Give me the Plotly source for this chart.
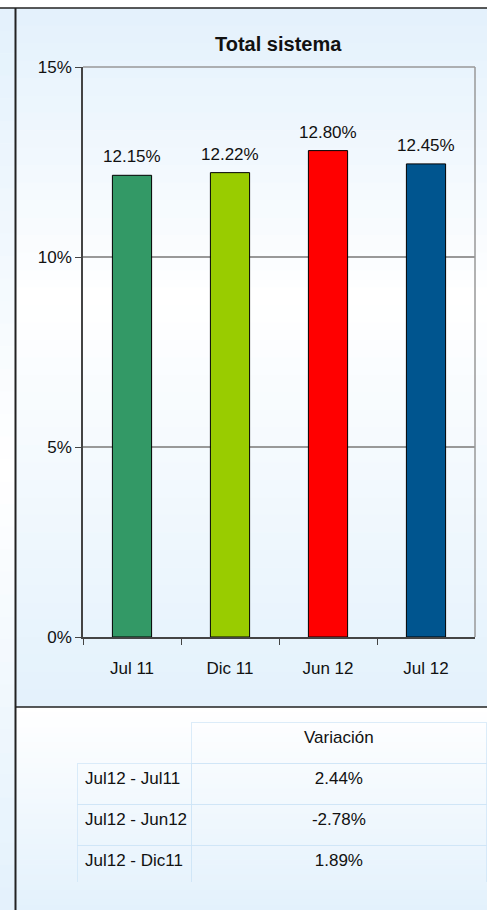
import plotly.graph_objects as go

# data
periods = ["Jul 11", "Dic 11", "Jun 12", "Jul 12"]
ratios = [0.1215, 0.1222, 0.1280, 0.1245]
bar_colors = ["#339966", "#99CC00", "#FF0000", "#00558F"]

var_labels = ["Jul12 - Jul11", "Jul12 - Jun12", "Jul12 - Dic11"]
var_values = ["2.44%", "-2.78%", "1.89%"]

W, H = 487, 910
FONT = "Liberation Sans, Arial, sans-serif"
BLUE = (227, 241, 252)
WHITE = (255, 255, 255)
GRIDLINE = "rgba(205,228,247,0.7)"


def px(x):
    return x / W


def py(y):
    return 1 - y / H


def mix(c1, c2, t):
    return "rgb(%d,%d,%d)" % tuple(round(a + (b - a) * t) for a, b in zip(c1, c2))


def gradient(x0, x1, y0, y1, stops, n=40):
    # stops: list of (pixel_y, colour) top to bottom
    out = []
    step = (y1 - y0) / n
    for i in range(n):
        ya = y0 + i * step
        yc = ya + step / 2
        for (sa, ca), (sb, cb) in zip(stops[:-1], stops[1:]):
            if sa <= yc <= sb:
                col = mix(ca, cb, (yc - sa) / (sb - sa))
                break
        out.append(dict(type="rect", xref="paper", yref="paper", layer="below",
                        x0=px(x0), x1=px(x1), y0=max(0, py(ya + step + 0.5)), y1=py(ya),
                        fillcolor=col, line=dict(width=0)))
    return out


fig = go.Figure()

fig.add_trace(go.Bar(
    x=periods, y=ratios,
    marker=dict(color=bar_colors, line=dict(color="black", width=1)),
    width=0.4, hoverinfo="x+y", showlegend=False,
))

# non-breaking spaces so the row labels stay on one line
nb_labels = [s.replace(" ", "\u00a0") for s in var_labels]

fig.add_trace(go.Table(
    domain=dict(x=[px(77), 1], y=[py(882), py(722)]),
    columnwidth=[115, 295],
    header=dict(values=["", "Variación"], height=41,
                fill_color="rgba(0,0,0,0)",
                line_color=["rgba(0,0,0,0)", GRIDLINE],
                align=["left", "center"],
                font=dict(family=FONT, size=17, color="#111")),
    cells=dict(values=[nb_labels, var_values], height=41,
               fill_color="rgba(0,0,0,0)",
               line_color=GRIDLINE,
               align=["left", "center"],
               font=dict(family=FONT, size=17, color="#111")),
))

shapes = []
shapes += gradient(0, 16, 8, H, [(8, BLUE), (470, WHITE), (H, BLUE)])
shapes += gradient(16, W, 8, 707, [(8, BLUE), (300, WHITE), (707, BLUE)])
shapes += gradient(16, W, 707, H, [(707, WHITE), (H, BLUE)])

xd = [px(83), px(475)]
yd = [py(637), py(67)]

# frame lines
shapes += [
    dict(type="line", xref="paper", yref="paper", x0=0, x1=1, y0=py(8), y1=py(8),
         line=dict(color="#222", width=1.5)),
    dict(type="line", xref="paper", yref="paper", x0=px(15.5), x1=px(15.5), y0=py(8), y1=0,
         line=dict(color="#222", width=2)),
    dict(type="line", xref="paper", yref="paper", x0=px(15), x1=1, y0=py(707), y1=py(707),
         line=dict(color="#222", width=1.5)),
    dict(type="line", xref="paper", yref="paper", x0=xd[0], x1=xd[1], y0=yd[1], y1=yd[1],
         line=dict(color="#999", width=1.5)),
    dict(type="line", xref="paper", yref="paper", x0=xd[1], x1=xd[1], y0=yd[0], y1=yd[1],
         line=dict(color="#999", width=1.5)),
]

annotations = [
    dict(x=p, y=v, xref="x", yref="y", text=f"{v * 100:.2f}%", showarrow=False,
         yanchor="bottom", yshift=7, font=dict(family=FONT, size=17, color="#111"))
    for p, v in zip(periods, ratios)
]
annotations.append(dict(x=px(278), y=py(44), xref="paper", yref="paper",
                        text="<b>Total sistema</b>", showarrow=False,
                        xanchor="center", yanchor="middle",
                        font=dict(family=FONT, size=20, color="#111")))

fig.update_layout(
    width=W, height=H,
    margin=dict(l=0, r=0, t=0, b=0, autoexpand=False),
    paper_bgcolor="white", plot_bgcolor="white",
    font=dict(family=FONT, color="#111"),
    shapes=shapes, annotations=annotations,
    xaxis=dict(domain=xd, type="category", showline=True, linecolor="#444", linewidth=1.5,
               ticks="outside", tickson="boundaries", ticklen=6, tickcolor="#444",
               ticklabelstandoff=15, tickfont=dict(size=17), showgrid=False,
               automargin=False),
    yaxis=dict(domain=yd, range=[0, 0.15], dtick=0.05, tickformat=".0%",
               showline=True, linecolor="#444", linewidth=1.5,
               ticks="outside", ticklen=6, tickcolor="#444", tickfont=dict(size=17),
               showgrid=True, gridcolor="#999", gridwidth=1.5, zeroline=False,
               automargin=False),
)

# the page's default body margin would shift the figure by 8px
fig.write_html("out.html", config={"displayModeBar": False},
               post_script="document.body.style.margin='0';document.body.style.overflow='hidden';")
